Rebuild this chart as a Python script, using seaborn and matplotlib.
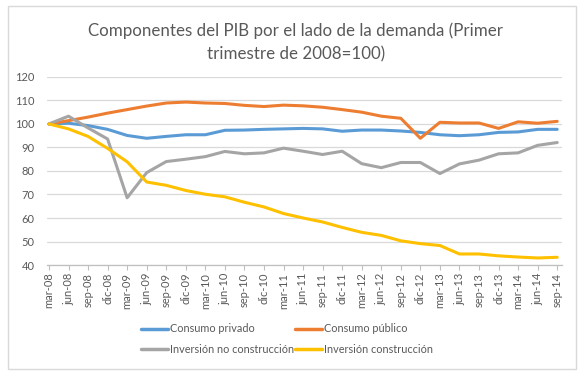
import matplotlib
matplotlib.use("Agg")
import matplotlib.pyplot as plt
import seaborn as sns
import pandas as pd
from matplotlib.patches import Rectangle

quarters = ["mar-08", "jun-08", "sep-08", "dic-08", "mar-09", "jun-09", "sep-09", "dic-09",
            "mar-10", "jun-10", "sep-10", "dic-10", "mar-11", "jun-11", "sep-11", "dic-11",
            "mar-12", "jun-12", "sep-12", "dic-12", "mar-13", "jun-13", "sep-13", "dic-13",
            "mar-14", "jun-14", "sep-14"]

consumo_privado = [100, 100.3, 99.3, 97.7, 95.1, 93.9, 94.7, 95.4, 95.4, 97.3, 97.4, 97.7, 97.9,
                   98.1, 97.9, 96.9, 97.4, 97.4, 97.0, 96.4, 95.4, 95.0, 95.4, 96.4, 96.6, 97.7, 97.7]
consumo_publico = [100, 101.4, 102.9, 104.6, 106.1, 107.6, 108.9, 109.3, 108.9, 108.7, 107.9, 107.4, 108.0,
                   107.7, 107.1, 106.1, 105.0, 103.3, 102.4, 93.9, 100.7, 100.4, 100.4, 98.1, 100.9, 100.3, 101.1]
inversion_no_construccion = [100, 103.3, 98.3, 93.6, 68.6, 79.3, 84.0, 85.0, 86.1, 88.3, 87.3, 87.7, 89.7,
                             88.4, 87.0, 88.4, 83.1, 81.4, 83.6, 83.6, 78.9, 83.0, 84.6, 87.3, 87.7, 90.9, 92.1]
inversion_construccion = [100, 97.9, 94.7, 89.6, 83.9, 75.3, 73.9, 71.7, 70.1, 69.0, 66.7, 64.7, 61.9,
                          60.0, 58.3, 56.0, 53.9, 52.6, 50.3, 49.1, 48.3, 44.7, 44.7, 43.9, 43.4, 43.0, 43.3]

series_names = ["Consumo privado", "Consumo público", "Inversión no construcción", "Inversión construcción"]
series_values = [consumo_privado, consumo_publico, inversion_no_construccion, inversion_construccion]
colors = ["#5B9BD5", "#ED7D31", "#A5A5A5", "#FFC000"]
title = "Componentes del PIB por el lado de la demanda (Primer\ntrimestre de 2008=100)"
y_ticks = [40, 50, 60, 70, 80, 90, 100, 110, 120]

rows = []
for name, vals in zip(series_names, series_values):
    for i, (q, v) in enumerate(zip(quarters, vals)):
        rows.append({"idx": i, "quarter": q, "value": v, "serie": name})
df = pd.DataFrame(rows)

sns.set_style("white")
plt.rcParams["font.family"] = ["Lato", "DejaVu Sans"]
text_color = "#595959"

fig = plt.figure(figsize=(5.86, 3.77), dpi=100)
ax = fig.add_axes([0.0802, 0.297, 0.879, 0.499])

sns.lineplot(data=df, x="idx", y="value", hue="serie", palette=colors,
             hue_order=series_names, linewidth=2.2, ax=ax, legend=False)

ax.set_xlim(-0.1, len(quarters) - 1 + 0.25)
ax.set_ylim(40, 120)
ax.set_yticks(y_ticks)
ax.set_yticklabels([str(t) for t in y_ticks], fontsize=8, color=text_color)
ax.set_xticks(range(len(quarters)))
ax.set_xticklabels(quarters, rotation=90, fontsize=8, color=text_color)
ax.tick_params(axis="y", length=0, pad=9)
ax.tick_params(axis="x", length=3.5, width=0.8, color="#BFBFBF", pad=2, direction="out", bottom=True)
ax.set_xlabel("")
ax.set_ylabel("")
ax.grid(axis="y", color="#D9D9D9", linewidth=0.9)
ax.set_axisbelow(True)
for s in ["top", "right", "left"]:
    ax.spines[s].set_visible(False)
ax.spines["bottom"].set_color("#BFBFBF")
ax.spines["bottom"].set_linewidth(0.9)

fig.text(0.505, 0.887, title, ha="center", va="center", fontsize=12.2, color=text_color,
         linespacing=1.55)

handles = [plt.Line2D([], [], color=c, linewidth=2.5) for c in colors]
order = [0, 2, 1, 3]
fig.legend([handles[i] for i in order], [series_names[i] for i in order],
           ncol=2, loc="center", bbox_to_anchor=(0.49, 0.101), frameon=False,
           fontsize=7.8, labelcolor=text_color, handlelength=2.5, handletextpad=0.2,
           columnspacing=0.05, labelspacing=0.85)

fig.patches.append(Rectangle((0.013, 0.022), 0.970, 0.963, transform=fig.transFigure,
                             fill=False, edgecolor="#D9D9D9", linewidth=1))

fig.savefig("out.png", dpi=100, facecolor="white")
